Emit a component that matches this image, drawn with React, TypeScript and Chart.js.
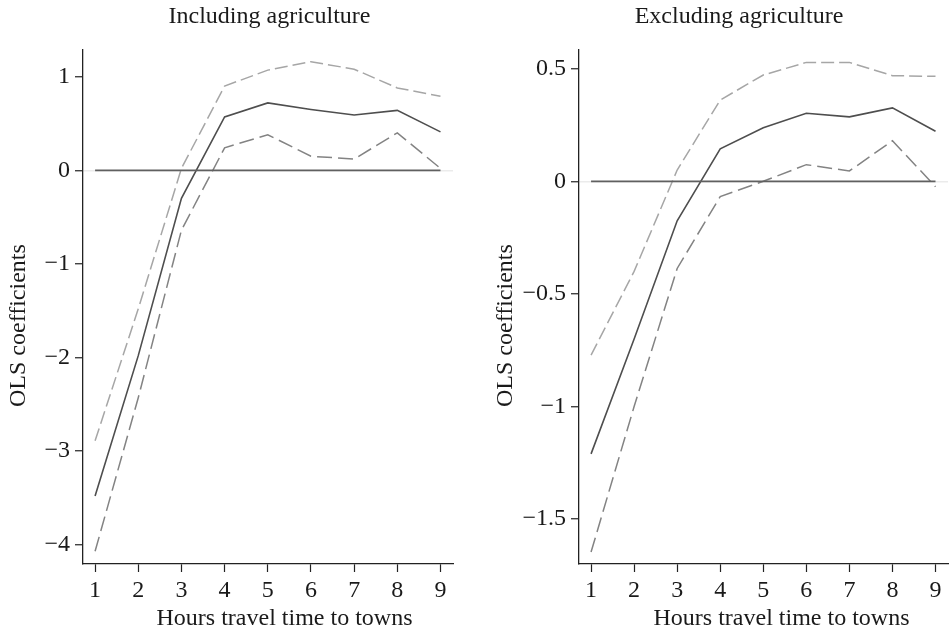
import React, { useEffect, useRef } from 'react';
import { Chart, registerables } from 'chart.js';

Chart.register(...registerables);

// ---- data ----
const hours = [1, 2, 3, 4, 5, 6, 7, 8, 9];
const xTicks = [1, 2, 3, 4, 5, 6, 7, 8, 9];

const incCoef = [-3.48, -1.98, -0.3, 0.57, 0.72, 0.65, 0.59, 0.64, 0.41];
const incUpper = [-2.89, -1.48, 0.02, 0.9, 1.07, 1.16, 1.08, 0.88, 0.79];
const incLower = [-4.07, -2.43, -0.64, 0.24, 0.38, 0.15, 0.12, 0.4, 0.02];
const incYTicks = [-4, -3, -2, -1, 0, 1];

const excCoef = [-1.21, -0.7, -0.175, 0.144, 0.238, 0.302, 0.286, 0.326, 0.222];
const excUpper = [-0.772, -0.4, 0.05, 0.361, 0.472, 0.528, 0.528, 0.469, 0.466];
const excLower = [-1.646, -1.0, -0.387, -0.068, 0.0, 0.074, 0.046, 0.18, -0.024];
const excYTicks = [-1.5, -1, -0.5, 0, 0.5];

const zeroLine = [0, 0];
const zeroX = [1, 9];

const FONT = '"Liberation Serif", "Times New Roman", serif';
const TEXT = '#1a1a1a';
const AXIS = '#222222';

const fmt = (v: number) => (v < 0 ? '\u2212' : '') + String(Math.abs(v));

const textPlugin = {
  id: 'panelTexts',
  afterDraw(chart: any, _args: any, opts: any) {
    const ctx = chart.ctx;
    ctx.save();
    ctx.fillStyle = TEXT;
    ctx.font = `${opts.size}px ${FONT}`;
    ctx.textBaseline = 'alphabetic';
    ctx.textAlign = 'center';
    ctx.fillText(opts.title, opts.titleX, opts.titleY);
    ctx.fillText(opts.xTitle, opts.xTitleX, opts.xTitleY);
    ctx.translate(opts.yTitleX, opts.yTitleY);
    ctx.rotate(-Math.PI / 2);
    ctx.textAlign = 'left';
    ctx.fillText(opts.yTitle, 0, 0);
    ctx.restore();
  },
};

type PanelProps = {
  coef: number[];
  upper: number[];
  lower: number[];
  yTicks: number[];
  yMin: number;
  yMax: number;
  yWidth: number;
  padRight: number;
  title: string;
  titleX: number;
  xTitleX: number;
  yTitleX: number;
  left: number;
};

function Panel(p: PanelProps) {
  const ref = useRef<HTMLCanvasElement | null>(null);
  useEffect(() => {
    if (!ref.current) return;
    const pts = (vals: number[]) => hours.map((h, i) => ({ x: h, y: vals[i] }));
    const chart = new Chart(ref.current, {
      type: 'line',
      data: {
        datasets: [
          {
            data: zeroX.map((x, i) => ({ x, y: zeroLine[i] })),
            borderColor: '#606060',
            borderWidth: 1.8,
            pointRadius: 0,
          },
          {
            data: pts(p.upper),
            borderColor: '#a6a6a6',
            borderWidth: 1.5,
            borderDash: [13, 5],
            pointRadius: 0,
          },
          {
            data: pts(p.lower),
            borderColor: '#838383',
            borderWidth: 1.5,
            borderDash: [15, 6],
            pointRadius: 0,
          },
          {
            data: pts(p.coef),
            borderColor: '#4e4e4e',
            borderWidth: 1.6,
            pointRadius: 0,
          },
        ],
      },
      options: {
        animation: false,
        responsive: false,
        layout: { padding: { left: 0, right: p.padRight, top: 50, bottom: 0 } },
        plugins: {
          legend: { display: false },
          tooltip: { enabled: false },
          title: { display: false },
          panelTexts: {
            size: 24,
            title: p.title,
            titleX: p.titleX,
            titleY: 23,
            xTitle: 'Hours travel time to towns',
            xTitleX: p.xTitleX,
            xTitleY: 625,
            yTitle: 'OLS coefficients',
            yTitleX: p.yTitleX,
            yTitleY: 407,
          },
        } as any,
        scales: {
          x: {
            type: 'linear',
            min: 0.72,
            max: 9.29,
            afterBuildTicks: (s: any) => {
              s.ticks = xTicks.map((v) => ({ value: v }));
            },
            afterFit: (s: any) => {
              s.height = 68;
            },
            ticks: {
              font: { family: FONT, size: 24 },
              color: TEXT,
              padding: 4,
              maxRotation: 0,
              callback: (v: any) => String(v),
            },
            grid: {
              drawOnChartArea: false,
              drawTicks: true,
              tickLength: 8,
              tickColor: AXIS,
              tickWidth: 1.2,
            },
            border: { display: true, color: AXIS, width: 1.3 },
          },
          y: {
            type: 'linear',
            min: p.yMin,
            max: p.yMax,
            afterBuildTicks: (s: any) => {
              s.ticks = p.yTicks.map((v) => ({ value: v }));
            },
            afterFit: (s: any) => {
              s.width = p.yWidth;
            },
            ticks: {
              font: { family: FONT, size: 24 },
              color: TEXT,
              padding: 5,
              callback: (v: any) => fmt(Number(v)),
            },
            grid: {
              drawOnChartArea: true,
              drawTicks: true,
              tickLength: 8,
              tickColor: AXIS,
              tickWidth: 1.2,
              color: (c: any) => (c.tick && c.tick.value === 0 ? '#ebebeb' : 'rgba(0,0,0,0)'),
              lineWidth: 1.5,
            },
            border: { display: true, color: AXIS, width: 1.3 },
          },
        },
      },
      plugins: [textPlugin as any],
    });
    return () => chart.destroy();
  }, []);
  return (
    <canvas
      ref={ref}
      width={475}
      height={632}
      style={{ position: 'absolute', left: p.left, top: 0, width: 475, height: 632 }}
    />
  );
}

export default function App() {
  return (
    <div style={{ position: 'fixed', left: 0, top: 0, width: 950, height: 632, background: '#fff', overflow: 'hidden' }}>
      <Panel
        coef={incCoef}
        upper={incUpper}
        lower={incLower}
        yTicks={incYTicks}
        yMin={-4.206}
        yMax={1.285}
        yWidth={83}
        padRight={22}
        title="Including agriculture"
        titleX={269.5}
        xTitleX={284.5}
        yTitleX={25}
        left={0}
      />
      <Panel
        coef={excCoef}
        upper={excUpper}
        lower={excLower}
        yTicks={excYTicks}
        yMin={-1.699}
        yMax={0.583}
        yWidth={104}
        padRight={2}
        title="Excluding agriculture"
        titleX={264}
        xTitleX={306.5}
        yTitleX={37}
        left={475}
      />
    </div>
  );
}
